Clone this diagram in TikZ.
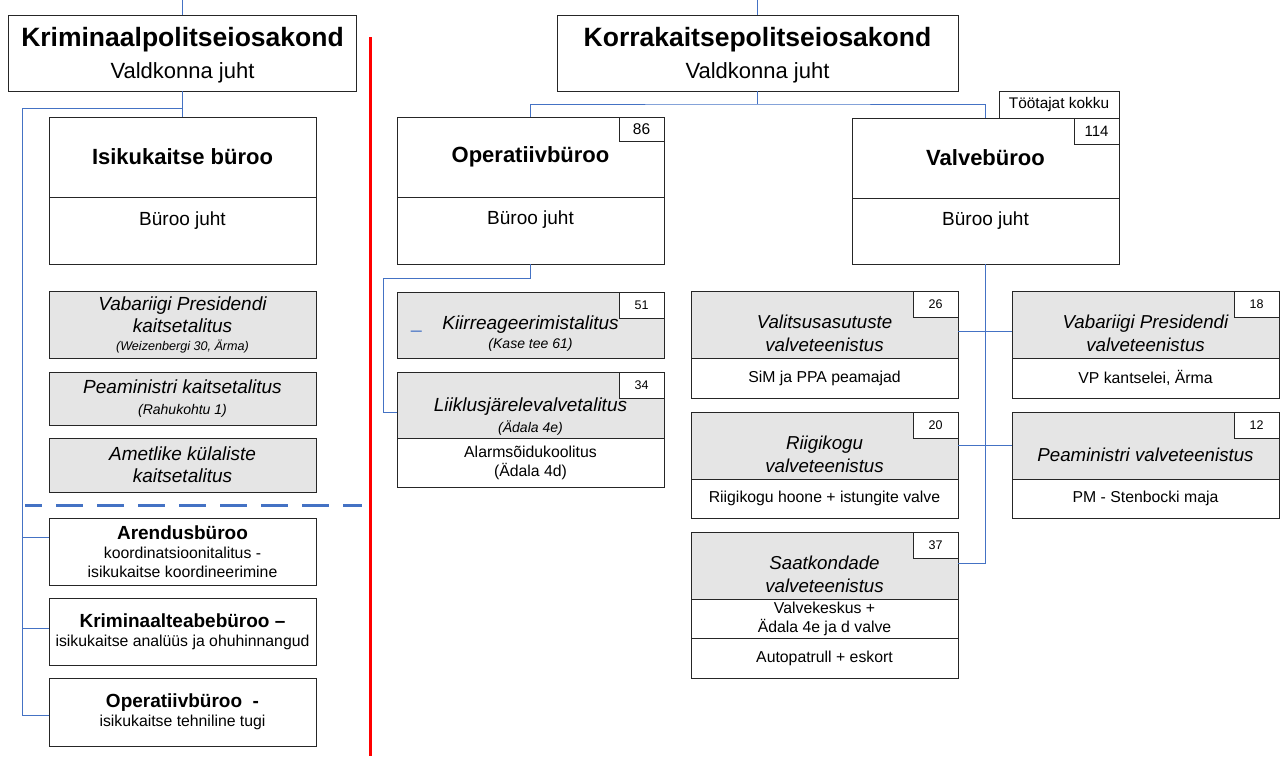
\documentclass[tikz,border=0pt]{standalone}
\usepackage{fontspec}
\setmainfont{Liberation Sans}
\usetikzlibrary{positioning}
\definecolor{linkblue}{HTML}{4472C4}

\begin{document}
\begin{tikzpicture}[x=1pt, y=-1pt, node distance=0pt,
  box/.style={draw=black!85, line width=1pt, minimum width=267pt, inner sep=0pt, outer sep=0pt, align=center},
  grey/.style={box, fill=black!10, font=\fontsize{19}{22}\selectfont\itshape},
  head/.style={box, minimum height=76pt, font=\fontsize{22}{31.5}\selectfont},
  title/.style={box, minimum height=80pt, font=\fontsize{22}{26}\selectfont\bfseries},
  juht/.style={box, minimum height=67pt},
  wbox/.style={box, font=\fontsize{15.8}{19}\selectfont},
  num/.style={box, fill=white, minimum width=45pt, minimum height=26pt, anchor=north east, font=\fontsize{12.5}{14}\selectfont},
  txt/.style={inner sep=0pt, align=center},
  jtxt/.style={txt, font=\fontsize{19}{22}\selectfont},
  vtxt/.style={txt, font=\fontsize{18.7}{23}\selectfont\itshape},
  link/.style={draw=linkblue, line width=1pt}]
\useasboundingbox (0,0) rectangle (1281,756);

% Kriminaalpolitseiosakond
\node[head, minimum width=348pt] (kpo) at (182.5,53) {};
\node[txt, font=\fontsize{22}{31.5}\selectfont] (kpoT) at ([yshift=-2pt]kpo.center) {{\fontsize{26.5}{30}\selectfont\bfseries Kriminaalpolitseiosakond}\\Valdkonna juht};
\node[title] (isik) at (182.5,157) {Isikukaitse büroo};
\node[juht, below=of isik] (isikj) {};
\node[jtxt] (isikjT) at ([yshift=10pt]isikj.center) {Büroo juht};

\node[grey, minimum height=67pt] (vpk) at (182.5,324.5) {Vabariigi Presidendi\\kaitsetalitus\\[-4pt]{\fontsize{12.6}{14}\selectfont(Weizenbergi 30, Ärma)}};
\node[grey, minimum height=53pt] (pmk) at (182.5,398.5) {Peaministri kaitsetalitus\\[-1pt]{\fontsize{14}{16}\selectfont(Rahukohtu 1)}};
\node[grey, minimum height=54pt] (akk) at (182.5,465) {Ametlike külaliste\\kaitsetalitus};

\node[wbox, minimum height=67pt] (arend) at (182.5,551.5) {{\bfseries\fontsize{19}{22}\selectfont Arendusbüroo}\\koordinatsioonitalitus -\\isikukaitse koordineerimine};
\node[wbox, minimum height=67pt] (krim) at (182.5,631.5) {{\bfseries\fontsize{19}{22}\selectfont Kriminaalteabebüroo –}\\isikukaitse analüüs ja ohuhinnangud};
\node[wbox, minimum height=68pt] (opi) at (182.5,712) {{\bfseries\fontsize{19}{22}\selectfont Operatiivbüroo\ \ -}\\isikukaitse tehniline tugi};

\coordinate (kpoUp) at (182.5,0);
\coordinate (kBus) at (22,108);
\draw[link] (kpo) -- (kpoUp);
\draw[link] (kpo) -- (isik);
\draw[link] (kpo.south |- kBus) -- (kBus);
\foreach \b/\s in {arend/14.5, krim/3.5, opi/-3}
  \draw[link] ([yshift=\s pt]\b.west) -| (kBus);

\coordinate (dashL) at (25,505);
\coordinate (dashR) at (362,505);
\draw[linkblue, line width=3pt, dash pattern=on 27pt off 14pt, dash phase=10pt] (dashL) -- (dashR);

\coordinate (sepTop) at (370,37);
\coordinate (sepBot) at (370,756);
\draw[red, line width=3pt] (sepTop) -- (sepBot);

% Korrakaitsepolitseiosakond
\node[head, minimum width=401pt] (kko) at (757.5,53) {};
\node[txt, font=\fontsize{22}{31.5}\selectfont] (kkoT) at ([yshift=-2pt]kko.center) {{\fontsize{26.5}{30}\selectfont\bfseries Korrakaitsepolitseiosakond}\\Valdkonna juht};

\node[title] (opb) at (530.5,157) {Operatiivbüroo};
\node[juht, below=of opb] (opbj) {};
\node[jtxt] (opbjT) at ([yshift=10.5pt]opbj.center) {Büroo juht};
\node[num, minimum height=24pt, font=\fontsize{15.5}{18}\selectfont] (n86) at (opb.north east) {86};

\node[title] (valve) at (985.5,158) {Valvebüroo};
\node[juht, minimum height=66pt, below=of valve] (valvej) {};
\node[jtxt] (valvejT) at ([yshift=10pt]valvej.center) {Büroo juht};
\node[num, font=\fontsize{15}{18}\selectfont] (n114) at (valve.north east) {114};
\node[num, anchor=south east, minimum width=120pt, minimum height=27pt, font=\fontsize{15.4}{18}\selectfont] (kokku) at (valve.north east) {Töötajat kokku};

\node[grey, minimum height=66pt] (kiir) at (530.5,325) {};
\node[txt, font=\fontsize{19}{22}\selectfont\itshape] (kiirT) at ([yshift=-9pt]kiir.center) {Kiirreageerimistalitus\\[-3pt]{\fontsize{14}{16}\selectfont(Kase tee 61)}};
\node[num] (n51) at (kiir.north east) {51};
\node[txt, text=linkblue, font=\fontsize{19}{22}\selectfont, anchor=south] (kiirMark) at (416.5,332) {\_};

\node[grey, minimum height=66pt] (liik) at (530.5,405) {};
\node[txt, font=\fontsize{19}{22}\selectfont\itshape] (liikT) at ([yshift=-12pt]liik.center) {Liiklusjärelevalvetalitus\\[-1pt]{\fontsize{14}{16}\selectfont(Ädala 4e)}};
\node[num] (n34) at (liik.north east) {34};
\node[wbox, minimum height=49pt, below=of liik] (liikj) {Alarmsõidukoolitus\\(Ädala 4d)};

% valveteenistused
\node[grey, minimum height=67pt] (valit) at (824.5,324.5) {};
\node[vtxt] (valitT) at ([yshift=-9pt]valit.center) {Valitsusasutuste\\valveteenistus};
\node[num] (n26) at (valit.north east) {26};
\node[wbox, minimum height=40pt, below=of valit] (valitj) {SiM ja PPA peamajad};

\node[grey, minimum height=67pt] (vpv) at (1145.5,324.5) {};
\node[vtxt] (vpvT) at ([yshift=-9pt]vpv.center) {Vabariigi Presidendi\\valveteenistus};
\node[num] (n18) at (vpv.north east) {18};
\node[wbox, minimum height=40pt, below=of vpv] (vpvj) {VP kantselei, Ärma};

\node[grey, minimum height=67pt] (riigi) at (824.5,445.5) {};
\node[vtxt] (riigiT) at ([yshift=-9pt]riigi.center) {Riigikogu\\valveteenistus};
\node[num] (n20) at (riigi.north east) {20};
\node[wbox, minimum height=39pt, below=of riigi] (riigij) {Riigikogu hoone + istungite valve};

\node[grey, minimum height=67pt] (pmv) at (1145.5,445.5) {};
\node[vtxt] (pmvT) at ([yshift=-9.5pt]pmv.center) {Peaministri valveteenistus};
\node[num] (n12) at (pmv.north east) {12};
\node[wbox, minimum height=39pt, below=of pmv] (pmvj) {PM - Stenbocki maja};

\node[grey, minimum height=67pt] (saat) at (824.5,565.5) {};
\node[vtxt] (saatT) at ([yshift=-9pt]saat.center) {Saatkondade\\valveteenistus};
\node[num] (n37) at (saat.north east) {37};
\node[wbox, minimum height=39pt, below=of saat] (saatj) {Valvekeskus +\\Ädala 4e ja d valve};
\node[wbox, minimum height=40pt, below=of saatj] (saatk) {Autopatrull + eskort};

\coordinate (kkoUp) at (757.5,0);
\coordinate (rBus) at (757.5,104);
\coordinate (oBus) at (383,278);
\draw[link] (kko) -- (kkoUp);
\draw[link] (kko) -- (rBus);
\draw[link] (opb.north) |- (rBus) -| (valve.north);
\draw[link] (opbj.south) |- (oBus) |- ([yshift=-7pt]liik.west);
\draw[link] (valvej.south) |- ([yshift=2.5pt]saat.east);
\draw[link] ([yshift=-6.5pt]valit.east) -- ([yshift=-6.5pt]vpv.west);
\draw[link] (riigi) -- (pmv);
\end{tikzpicture}
\end{document}
